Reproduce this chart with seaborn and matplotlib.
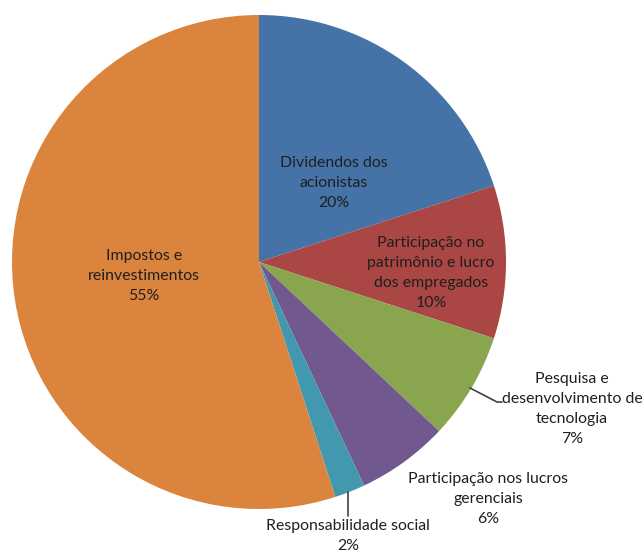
import matplotlib
matplotlib.use("Agg")
import matplotlib.pyplot as plt
import seaborn as sns

categories = [
    "Dividendos dos\nacionistas",
    "Participação no\npatrimônio e lucro\ndos empregados",
    "Pesquisa e\ndesenvolvimento de\ntecnologia",
    "Participação nos lucros\ngerenciais",
    "Responsabilidade social",
    "Impostos e\nreinvestimentos",
]
values = [20, 10, 7, 6, 2, 55]
colors = ["#4572A7", "#AA4643", "#89A54E", "#71588F", "#4198AF", "#DB843D"]

sns.set_theme(style="white")
plt.rcParams["font.family"] = ["Lato", "DejaVu Sans"]

W, H = 644, 556
CX, CY, R = 259, 262, 247

fig = plt.figure(figsize=(W / 100, H / 100), dpi=100)
ax = fig.add_axes([0, 0, 1, 1])
ax.pie(values, colors=sns.color_palette(colors), startangle=90, counterclock=False,
       radius=1, center=(0, 0), wedgeprops=dict(linewidth=0))
ax.set_xlim(-CX / R, (W - CX) / R)
ax.set_ylim(-(H - CY) / R, CY / R)
ax.set_aspect("equal")
ax.axis("off")


def p2d(px, py):
    return (px - CX) / R, (CY - py) / R


# label anchor positions (pixel centres of label blocks)
label_pos = [(334, 183), (431, 273), (572, 409), (488, 499), (348, 536), (144, 276)]
tc = "#1f1f1f"
for cat, v, (px, py) in zip(categories, values, label_pos):
    x, y = p2d(px, py)
    ax.text(x, y, f"{cat}\n{v}%", ha="center", va="center", fontsize=11.4,
            color=tc, linespacing=1.52)

# leader lines
x0, y0 = p2d(470, 388)
x1, y1 = p2d(497, 402)
x2, y2 = p2d(502, 402)
ax.plot([x0, x1, x2], [y0, y1, y2], color="#404040", lw=1.2)
x0, y0 = p2d(348, 492)
x1, y1 = p2d(348, 516)
ax.plot([x0, x1], [y0, y1], color="#404040", lw=1.2)

fig.savefig("out.png", dpi=100)
